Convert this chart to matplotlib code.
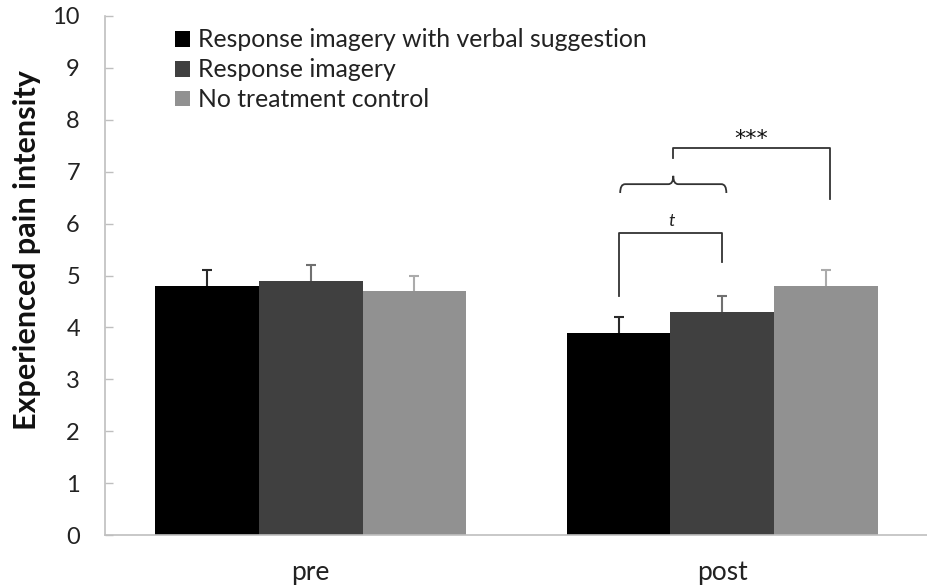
import numpy as np
import matplotlib
matplotlib.use("Agg")
import matplotlib.pyplot as plt
from matplotlib.path import Path
from matplotlib.patches import PathPatch

plt.rcParams['font.family'] = ['Lato', 'DejaVu Sans']

# -----------------------------
# Data
# -----------------------------
categories = ["pre", "post"]
series = ["Response imagery with verbal suggestion", "Response imagery",
          "No treatment control"]
verbal = [4.8, 3.9]
imagery = [4.9, 4.3]
control = [4.7, 4.8]
verbal_err = [0.3, 0.3]
imagery_err = [0.3, 0.3]
control_err = [0.3, 0.3]

colors = ["#000000", "#404040", "#919191"]
err_colors = ["#2a2a2a", "#707070", "#ababab"]

# -----------------------------
# Figure
# -----------------------------
fig = plt.figure(figsize=(9.28, 5.88), dpi=100)
ax = fig.add_axes([0.1131, 0.0901, 0.8869, 0.8827])

x = np.arange(len(categories))
w = 0.252
vals = [verbal, imagery, control]
errs = [verbal_err, imagery_err, control_err]
for i in range(3):
    pos = x + (i - 1) * w
    ax.bar(pos, vals[i], w, color=colors[i], label=series[i], zorder=2)
    top = np.array(vals[i]) + np.array(errs[i])
    # upper error bars only (stem + cap)
    ax.vlines(pos, vals[i], top, color=err_colors[i], lw=1.5, zorder=3)
    ax.plot(pos, top, ls="none", marker="_", ms=7, mew=1.5,
            color=err_colors[i], zorder=3)

ax.set_xlim(-0.5, 1.5)
ax.set_ylim(0, 10)
ax.set_yticks(range(0, 11))
ax.set_xticks(x)
ax.set_xticklabels(categories)
ax.tick_params(axis="x", length=0, pad=18, labelsize=19, colors="#222222")
ax.tick_params(axis="y", direction="in", length=6, width=1, color="#bfbfbf",
               pad=18, labelsize=17, labelcolor="#222222")
for s in ["top", "right"]:
    ax.spines[s].set_visible(False)
for s in ["left", "bottom"]:
    ax.spines[s].set_color("#bfbfbf")
    ax.spines[s].set_linewidth(1.2)

fig.text(27 / 928, 1 - 250 / 588, "Experienced pain intensity", rotation=90,
         ha="center", va="center", fontsize=22, fontweight="bold",
         color="#111111")

leg = ax.legend(loc="upper left", bbox_to_anchor=(0.073, 0.995), frameon=False,
                fontsize=17.8, handlelength=0.6, handleheight=0.6,
                handletextpad=0.35, labelspacing=0.28, borderaxespad=0)
for t in leg.get_texts():
    t.set_color("#222222")

# -----------------------------
# Significance annotations
# -----------------------------
lc = "#333333"
# t bracket (verbal vs imagery, post)
t_x = [0.75, 0.75, 1.0, 1.0]
t_y = [4.6, 5.82, 5.82, 5.26]
ax.plot(t_x, t_y, color=lc, lw=1.3)
ax.text(0.877, 5.9, "t", style="italic", ha="center", va="bottom",
        fontsize=13, color="#222222")

# curly brace over the two imagery groups
bx0, bx1, bxm = 0.752, 1.01, 0.881
by0, by1, bym = 6.59, 6.76, 6.92
r = 0.012
verts = [(bx0, by0), (bx0, by1), (bx0 + r, by1),
         (bxm - r, by1), (bxm, by1), (bxm, bym),
         (bxm, by1), (bxm + r, by1),
         (bx1 - r, by1), (bx1, by1), (bx1, by0)]
codes = [Path.MOVETO, Path.CURVE3, Path.CURVE3,
         Path.LINETO, Path.CURVE3, Path.CURVE3,
         Path.CURVE3, Path.CURVE3,
         Path.LINETO, Path.CURVE3, Path.CURVE3]
ax.add_patch(PathPatch(Path(verts, codes), fill=False, edgecolor=lc, lw=1.3))

# *** bracket (imagery groups vs control, post)
s_x = [0.881, 0.881, 1.262, 1.262]
s_y = [7.26, 7.46, 7.46, 6.47]
ax.plot(s_x, s_y, color=lc, lw=1.3)
ax.text(1.07, 7.63, "***", ha="center", va="center", fontsize=16,
        family="DejaVu Sans", color="#111111")

fig.savefig("out.png", dpi=100)
